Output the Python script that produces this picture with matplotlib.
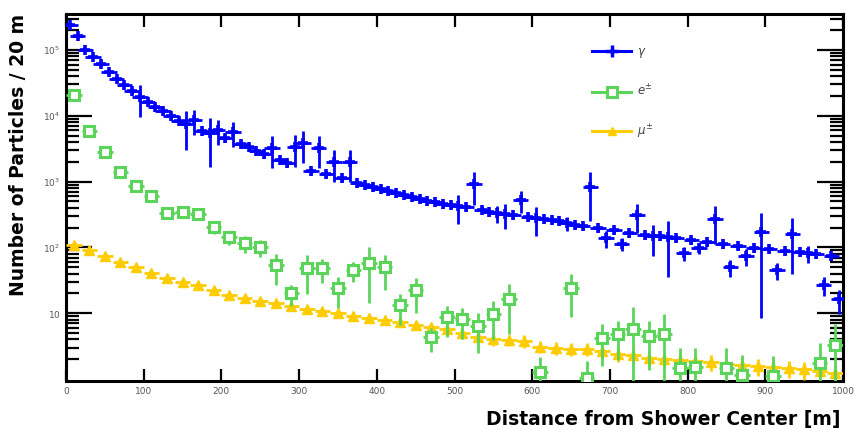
import numpy as np
import matplotlib
matplotlib.use('Agg')
import matplotlib.pyplot as plt
from matplotlib.lines import Line2D
from matplotlib.ticker import FixedLocator, FixedFormatter, NullFormatter

# distance bins [m]
gam_r = np.arange(5, 1000, 10)
lep_r = np.arange(10, 1000, 20)

# photons
gam_n = [240000, 163000, 100000, 78300, 61300, 46300, 36200, 29400, 23800, 19300,
         16200, 13600, 11800, 9910, 8320, 7490, 8610, 5860, 5470, 6070,
         4590, 5660, 3720, 3350, 2910, 2620, 3230, 2120, 1910, 3350,
         3850, 1450, 3230, 1300, 1980, 1130, 1980, 949, 885, 825,
         769, 717, 669, 624, 581, 542, 505, 488, 455, 439,
         424, 409, 916, 369, 344, 332, 321, 309, 524, 288,
         278, 269, 260, 251, 234, 218, 210, 825, 196, 138,
         183, 112, 165, 309, 154, 148, 148, 143, 138, 81.8,
         129, 97.5, 120, 269, 112, 50.1, 104, 73.6, 97.5, 171,
         94.0, 45.1, 87.7, 159, 84.6, 81.8, 78.9, 26.7, 73.6, 16.3]
gam_rel = [0.05, 0.05, 0.06, 0.06, 0.07, 0.07, 0.08, 0.08, 0.1, 0.5,
           0.1, 0.1, 0.12, 0.12, 0.12, 0.6, 0.4, 0.12, 0.7, 0.4,
           0.12, 0.4, 0.12, 0.12, 0.12, 0.12, 0.5, 0.12, 0.12, 0.5,
           0.5, 0.12, 0.5, 0.12, 0.5, 0.12, 0.5, 0.12, 0.12, 0.12,
           0.12, 0.12, 0.12, 0.12, 0.12, 0.12, 0.12, 0.12, 0.12, 0.12,
           0.47, 0.12, 0.52, 0.12, 0.12, 0.3, 0.4, 0.12, 0.37, 0.12,
           0.47, 0.12, 0.12, 0.12, 0.25, 0.12, 0.12, 0.69, 0.12, 0.28,
           0.12, 0.22, 0.12, 0.47, 0.12, 0.5, 0.12, 0.75, 0.12, 0.25,
           0.12, 0.2, 0.12, 0.58, 0.12, 0.3, 0.12, 0.3, 0.12, 0.95,
           0.12, 0.3, 0.12, 0.75, 0.12, 0.3, 0.12, 0.32, 0.12, 0.4]

# electrons / positrons
ele_n = [20700, 5860, 2810, 1390, 855, 601, 332, 344, 321, 203,
         143, 116, 101, 53.7, 20.1, 48.3, 48.3, 24.0, 45.1, 57.5,
         50.1, 13.2, 22.4, 4.3, 8.7, 8.1, 6.3, 9.7, 16.3, np.nan,
         1.27, np.nan, 24.0, 1.03, 4.2, 4.8, 5.7, 4.5, 4.8, 1.46,
         1.5, np.nan, 1.46, 1.14, np.nan, 1.1, np.nan, np.nan, 1.74, 3.3]
ele_rel = [0.03, 0.05, 0.07, 0.1, 0.12, 0.15, 0.18, 0.18, 0.18, 0.22,
           0.25, 0.28, 0.3, 0.5, 0.35, 0.6, 0.4, 0.5, 0.35, 0.75,
           0.55, 0.5, 0.55, 0.4, 0.5, 0.5, 0.6, 0.6, 0.7, 0.7,
           0.7, 0.7, 0.63, 0.8, 0.63, 0.6, 1.2, 0.7, 1.0, 1.0,
           1.0, 1.0, 1.0, 1.0, 1.0, 1.0, 1.0, 1.0, 1.0, 1.1]

# muons
mu_n = [108, 90.8, 73.6, 59.7, 50.1, 40.6, 34.0, 29.6, 26.7, 22.4,
        18.8, 16.9, 15.2, 14.2, 12.8, 11.5, 10.7, 10.0, 9.0, 8.4,
        7.8, 7.3, 6.6, 6.1, 5.7, 5.0, 4.3, 4.0, 3.9, 3.8,
        3.1, 3.0, 2.9, 2.85, 2.7, 2.4, 2.3, 2.1, 2.0, 1.93,
        1.86, 1.80, 1.68, 1.62, 1.56, 1.50, 1.45, 1.40, 1.30, 1.22]
mu_rel = [0.03, 0.04, 0.04, 0.05, 0.05, 0.06, 0.06, 0.07, 0.08, 0.08,
          0.09, 0.1, 0.1, 0.11, 0.12, 0.12, 0.13, 0.14, 0.14, 0.15,
          0.15, 0.16, 0.17, 0.17, 0.18, 0.18, 0.19, 0.2, 0.2, 0.21,
          0.21, 0.22, 0.22, 0.23, 0.23, 0.24, 0.24, 0.25, 0.25, 0.26,
          0.26, 0.27, 0.27, 0.28, 0.28, 0.29, 0.29, 0.3, 0.3, 0.3]

BLUE = '#0000ff'
GREEN = '#5ad55a'
YELLOW = '#ffcc00'

W, H = 858, 430
fig = plt.figure(figsize=(W / 100, H / 100), dpi=100)
ax = fig.add_axes([66 / W, 1 - 381 / H, 777 / W, 367.5 / H])

def draw(r, n, rel, xe, color, marker, ms, mfc, mew, z):
    n = np.array(n, dtype=float)
    err = n * np.array(rel)
    ax.errorbar(r, n, yerr=err, xerr=xe, fmt=marker, color=color, ms=ms,
                mfc=mfc, mec=color, mew=mew, elinewidth=2, capsize=0, zorder=z)

draw(gam_r, gam_n, gam_rel, 10, BLUE, '+', 7, BLUE, 2.6, 3)
draw(lep_r, mu_n, mu_rel, 10, YELLOW, '^', 7, YELLOW, 1, 4)
draw(lep_r, ele_n, ele_rel, 10, GREEN, 's', 7.5, 'white', 2.2, 5)

ax.set_yscale('log')
ax.set_xlim(0, 1000)
ax.set_ylim(0.93, 3.59e5)

ax.xaxis.set_major_locator(FixedLocator(np.arange(0, 1001, 100)))
ax.set_xticklabels([str(v) for v in range(0, 1001, 100)])
majors = [10, 100, 1e3, 1e4, 1e5]
ax.yaxis.set_major_locator(FixedLocator(majors))
ax.yaxis.set_major_formatter(FixedFormatter([r'$10$', r'$10^{2}$', r'$10^{3}$',
                                             r'$10^{4}$', r'$10^{5}$']))
minors = [m * 10.0 ** e for e in range(0, 6) for m in range(2, 10)]
ax.yaxis.set_minor_locator(FixedLocator(minors))
ax.yaxis.set_minor_formatter(NullFormatter())

ax.tick_params(axis='both', which='both', direction='in', top=True, right=True,
               width=1.6, labelsize=6.5, colors='black', labelcolor='#555555')
ax.tick_params(axis='y', which='major', length=19, pad=4)
ax.tick_params(axis='y', which='minor', length=9.5)
ax.tick_params(axis='x', which='major', length=9, pad=4)
ax.tick_params(axis='x', which='minor', length=0)
for s in ax.spines.values():
    s.set_linewidth(2.2)

fig.text(19 / W, 1 - 14 / H, 'Number of Particles / 20 m', rotation=90,
         ha='center', va='top', fontsize=13.5, fontweight='bold')
fig.text(841 / W, 1 - 420 / H, 'Distance from Shower Center [m]',
         ha='right', va='center', fontsize=13.5, fontweight='bold')

handles = [Line2D([], [], color=BLUE, marker='+', ms=9, mew=2.5, lw=2.2),
           Line2D([], [], color=GREEN, marker='s', ms=7.5, mfc='white', mew=2.2, lw=2.2),
           Line2D([], [], color=YELLOW, marker='^', ms=6, lw=2.2)]
ax.legend(handles, [r'$\gamma$', r'$e^{\pm}$', r'$\mu^{\pm}$'],
          loc='upper left', bbox_to_anchor=(0.67, 0.93), frameon=False,
          fontsize=8.5, handlelength=3.3, handletextpad=0.45, labelspacing=2.0,
          borderpad=0, labelcolor='#444444')

fig.savefig('out.png', dpi=100)
